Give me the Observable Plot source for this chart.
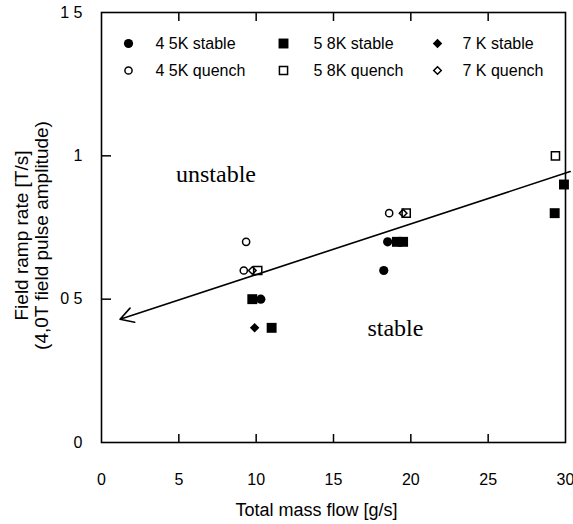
<!DOCTYPE html>
<html><head><meta charset="utf-8">
<script src="https://cdn.jsdelivr.net/npm/d3@7"></script>
<script src="https://cdn.jsdelivr.net/npm/@observablehq/plot@0.6"></script>
<style>
body{margin:0;background:#fff;}
#chart svg{display:block;}
</style></head><body><div id="chart"></div>
<script>
// ---- data ----
const seriesNames = ["4 5K stable", "5 8K stable", "7 K stable", "4 5K quench", "5 8K quench", "7 K quench"];
const flow45Stable = [10.3, 18.5, 18.25];
const ramp45Stable = [0.5, 0.7, 0.6];
const flow58Stable = [9.75, 11.0, 19.1, 19.5, 29.3, 29.9];
const ramp58Stable = [0.5, 0.4, 0.7, 0.7, 0.8, 0.9];
const flow7Stable = [9.9];
const ramp7Stable = [0.4];
const flow45Quench = [9.35, 9.2, 18.6];
const ramp45Quench = [0.7, 0.6, 0.8];
const flow58Quench = [10.1, 19.7, 29.35];
const ramp58Quench = [0.6, 0.8, 1.0];
const flow7Quench = [9.75, 19.5];
const ramp7Quench = [0.6, 0.8];
const boundaryFlow = [30.3, 1.2];
const boundaryRamp = [0.945, 0.43];
const regionLabels = ["unstable", "stable"];
const regionFlow = [7.4, 19.0];
const regionRamp = [0.935, 0.40];
const xTickValues = [0, 5, 10, 15, 20, 25, 30];
const xTickLabels = ["0", "5", "10", "15", "20", "25", "30"];
const yTickValues = [0, 0.5, 1, 1.5];
const yTickLabels = ["0", "0 5", "1", "1 5"];
const xTitle = "Total mass flow [g/s]";
const yTitle = "Field ramp rate [T/s]\n(4,0T field pulse amplitude)";

// ---- build ----
const zip = (xs, ys) => xs.map((x, i) => ({x, y: ys[i]}));
const W = 573, H = 524, mL = 101, mR = 8, mT = 12, mB = 82;
const fw = W - mL - mR, fh = H - mT - mB;
const sans = "'Liberation Sans', Arial, sans-serif";
const serif = "'Liberation Serif', 'Times New Roman', serif";

const styles = [
  {symbol: "circle", r: 4.6, fill: "#000", stroke: "none"},
  {symbol: "square", r: 5.6, fill: "#000", stroke: "none"},
  {symbol: "diamond2", r: 4.3, fill: "#000", stroke: "none"},
  {symbol: "circle", r: 3.6, fill: "none", stroke: "#000"},
  {symbol: "square", r: 4.6, fill: "none", stroke: "#000"},
  {symbol: "diamond2", r: 3.4, fill: "none", stroke: "#000"}
];
const seriesData = [
  zip(flow45Stable, ramp45Stable), zip(flow58Stable, ramp58Stable), zip(flow7Stable, ramp7Stable),
  zip(flow45Quench, ramp45Quench), zip(flow58Quench, ramp58Quench), zip(flow7Quench, ramp7Quench)
];

// legend layout (pixels from top-left of frame)
const legCols = [{m: 27, t: 54}, {m: 182, t: 212}, {m: 336, t: 361}];
const legRows = [31, 58];

const marks = [
  Plot.frame({stroke: "#000", strokeWidth: 1.6}),
  // inward ticks
  Plot.tickX([5, 10, 15, 20, 25], {insetTop: fh - 8, stroke: "#000", strokeWidth: 1.5}),
  Plot.tickX([5, 10, 15, 20, 25], {insetBottom: fh - 9, stroke: "#000", strokeWidth: 1.5}),
  Plot.tickY([0.5, 1], {insetRight: fw - 10, stroke: "#000", strokeWidth: 1.5}),
  Plot.axisX(xTickValues, {tickSize: 0, tickPadding: 31, fontSize: 16, fontFamily: sans, label: null,
    tickFormat: (d, i) => xTickLabels[i]}),
  Plot.axisY(yTickValues, {tickSize: 0, tickPadding: 19, fontSize: 16, fontFamily: sans, label: null,
    tickFormat: (d, i) => yTickLabels[i]}),
  Plot.text([xTitle], {frameAnchor: "bottom", dy: 68, dx: -17, fontSize: 18, fontFamily: sans, fill: "#000", lineAnchor: "middle"}),
  Plot.text([yTitle], {frameAnchor: "left", dx: -70, dy: 8, rotate: -90, textAnchor: "middle", fontSize: 19, lineHeight: 1.05,
    fontFamily: sans, fill: "#000", lineAnchor: "middle"}),
  Plot.arrow([0], {x1: () => boundaryFlow[0], y1: () => boundaryRamp[0], x2: () => boundaryFlow[1], y2: () => boundaryRamp[1],
    stroke: "#000", strokeWidth: 1.6, headLength: 14, headAngle: 60}),
  Plot.text(regionLabels, {x: (d, i) => regionFlow[i], y: (d, i) => regionRamp[i], text: d => d,
    fontSize: 24, fontFamily: serif, fill: "#000", lineAnchor: "middle"})
];
seriesData.forEach((data, k) => {
  const s = styles[k];
  marks.push(Plot.dot(data, {x: "x", y: "y", symbol: s.symbol, r: s.r, fill: s.fill, stroke: s.stroke, strokeWidth: 1.5}));
  const col = legCols[k % 3], row = legRows[Math.floor(k / 3)];
  marks.push(Plot.dot([seriesNames[k]], {frameAnchor: "top-left", dx: col.m, dy: row, symbol: s.symbol, r: s.r,
    fill: s.fill, stroke: s.stroke, strokeWidth: 1.5}));
  marks.push(Plot.text([seriesNames[k]], {frameAnchor: "top-left", dx: col.t, dy: row, text: d => d, textAnchor: "start",
    lineAnchor: "middle", fontSize: 16, fontFamily: sans, fill: "#000"}));
});

const chart = Plot.plot({
  width: W, height: H, marginLeft: mL, marginRight: mR, marginTop: mT, marginBottom: mB,
  style: {fontFamily: sans, fontSize: "16px", color: "#000", background: "#fff", overflow: "visible"},
  x: {domain: [0, 30]},
  y: {domain: [0, 1.5]},
  marks
});
document.getElementById("chart").append(chart);
</script></body></html>
